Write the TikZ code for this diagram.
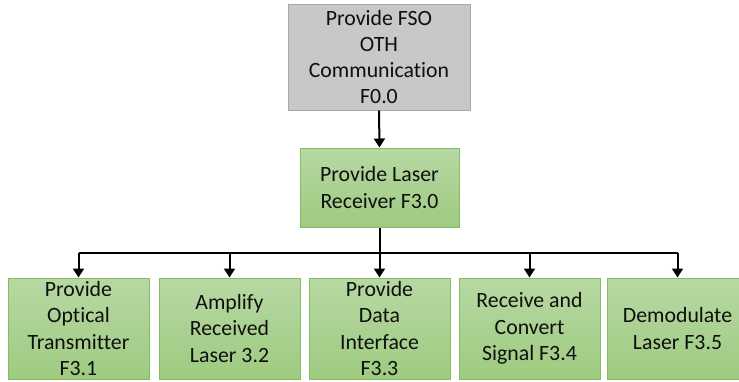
\documentclass[tikz,border=0pt]{standalone}
\usepackage{fontspec}
\setmainfont{Carlito}[Ligatures={NoCommon}]
\usetikzlibrary{arrows.meta}
\definecolor{grayfill}{RGB}{200,200,200}
\definecolor{grayline}{RGB}{168,168,168}
\definecolor{gtop}{RGB}{183,216,163}
\definecolor{gbot}{RGB}{158,203,128}
\definecolor{gline}{RGB}{132,190,98}
\definecolor{txt}{RGB}{15,15,15}
\tikzset{
  boxtext/.style={align=center, text=txt, inner sep=0pt,
    font=\fontsize{21.8}{26.3}\selectfont},
  graybox/.style={boxtext, draw=grayline, line width=1pt, fill=grayfill},
  greenbox/.style={boxtext, draw=gline, line width=1pt, top color=gtop, bottom color=gbot},
  leafbox/.style={greenbox, minimum width=141pt, minimum height=101pt},
  conn/.style={line width=2pt, black},
  arr/.style={conn, -{Triangle[length=9pt,width=11pt]}}
}
\begin{document}
\begin{tikzpicture}[x=1pt,y=-1pt]
\fill[white] (0,0) rectangle (739,381);
\clip (0,0) rectangle (739,381);
\useasboundingbox (0,0) rectangle (739,381);

\node[graybox, minimum width=182pt, minimum height=106pt] (top) at (379,57)
  {Provide FSO\\OTH\\Communication\\F0.0};
\node[greenbox, minimum width=159pt, minimum height=79pt] (mid) at (379.5,187.5)
  {Provide Laser\\Receiver F3.0};

\node[leafbox] (b1) at (78.5,328.5) {Provide\\Optical\\Transmitter\\F3.1};
\node[leafbox] (b2) at (229.5,328.5) {Amplify\\Received\\Laser 3.2};
\node[leafbox] (b3) at (379.5,328.5) {Provide\\Data\\Interface\\F3.3};
\node[leafbox] (b4) at (529.5,328.5) {Receive and\\Convert\\Signal F3.4};
\node[leafbox] (b5) at (677.5,328.5) {Demodulate\\Laser F3.5};

\coordinate (bus) at (379.5,253);

\draw[arr] (top.south) -- (mid.north);
\draw[conn] (b1.north |- bus) -- (b5.north |- bus);
\draw[arr] (mid.south) -- (b3.north);
\draw[arr] (b1.north |- bus) -- (b1.north);
\draw[arr] (b2.north |- bus) -- (b2.north);
\draw[arr] (b4.north |- bus) -- (b4.north);
\draw[arr] (b5.north |- bus) -- (b5.north);
\end{tikzpicture}
\end{document}
